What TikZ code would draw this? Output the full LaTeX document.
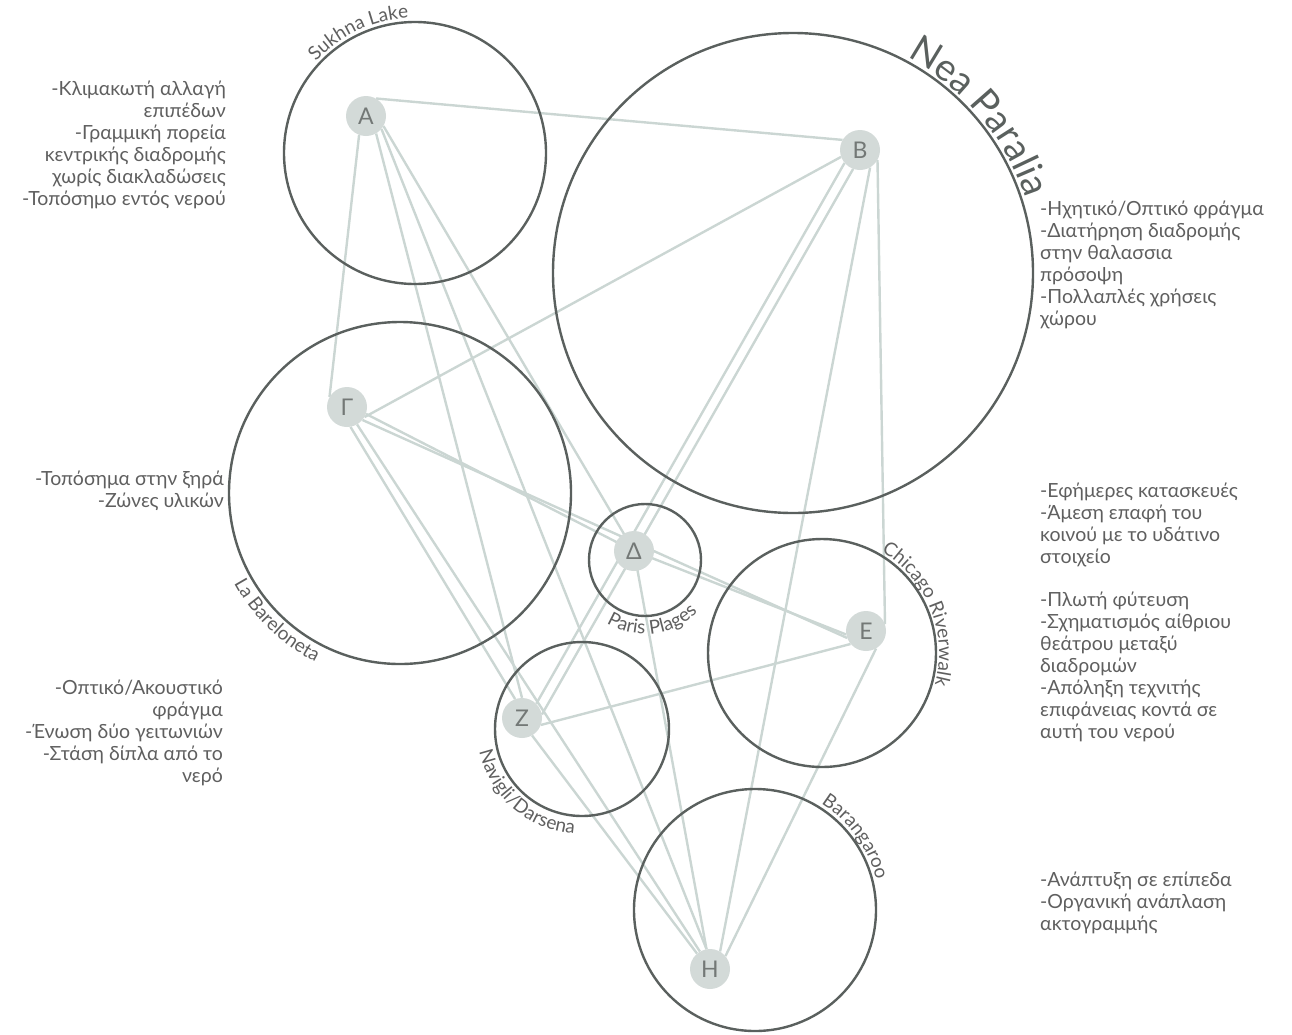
\documentclass[tikz,border=0pt]{standalone}
\usepackage{fontspec}
\setmainfont{Lato}
\usetikzlibrary{decorations.text}
\pgfdeclarelayer{background}
\pgfsetlayers{background,main}

\definecolor{ringgray}{HTML}{5A605E}
\definecolor{linkgray}{HTML}{CBD6D3}
\definecolor{dotgray}{HTML}{D3DAD8}
\definecolor{txtgray}{HTML}{5F5F5F}
\newcommand{\notefont}{\fontsize{19.5}{22}\selectfont}
\newcommand{\ringfont}{\color{txtgray}\fontsize{19}{19}\selectfont}
\newcommand{\bigringfont}{\color{ringgray}\fontsize{38}{38}\selectfont}

\begin{document}
\begin{tikzpicture}[x=1pt, y=1pt,
    ring/.style={draw=ringgray, line width=2.4pt},
    link/.style={draw=linkgray, line width=2.4pt},
    site/.style={circle, fill=dotgray, minimum size=40pt, inner sep=0pt,
      text=ringgray!85, font=\fontsize{23}{23}\selectfont},
    note/.style={text=txtgray, font=\notefont, inner sep=0pt},
    ringtext/.style={decorate, decoration={text along path, text align=center, text={#1}}}]

  \useasboundingbox (0,0) rectangle (1292,-1034);

  % the seven sites
  \coordinate (sk) at (415,-153);
  \coordinate (np) at (793,-273);
  \coordinate (lb) at (400,-493);
  \coordinate (pp) at (645,-560);
  \coordinate (cr) at (822,-653);
  \coordinate (nd) at (582,-729);
  \coordinate (ba) at (755,-910);

  \draw[ring] (sk) circle[radius=131];
  \draw[ring] (np) circle[radius=240];
  \draw[ring] (lb) circle[radius=171];
  \draw[ring] (pp) circle[radius=56];
  \draw[ring] (cr) circle[radius=114];
  \draw[ring] (nd) circle[radius=87];
  \draw[ring] (ba) circle[radius=121];

  \path[ringtext={|\ringfont|Sukhna Lake}] (sk) ++(155:135) arc[start angle=155, end angle=75, radius=135];
  \path[ringtext={|\bigringfont|Nea Paralia}] (np) ++(80:244) arc[start angle=80, end angle=0, radius=244];
  \path[ringtext={|\ringfont|La Bareloneta}] (lb) ++(181:189) arc[start angle=181, end angle=271, radius=189];
  \path[ringtext={|\ringfont|Paris Plages}] (pp) ++(200:74) arc[start angle=200, end angle=354, radius=74];
  \path[ringtext={|\ringfont|Navigli/Darsena}] (nd) ++(170:105) arc[start angle=170, end angle=288, radius=105];
  \path[ringtext={|\ringfont|Chicago Riverwalk}] (cr) ++(78:117) arc[start angle=78, end angle=-34, radius=117];
  \path[ringtext={|\ringfont|Barangaroo}] (ba) ++(76:125) arc[start angle=76, end angle=-4, radius=125];

  \node[site] (A) at (366,-116) {Α};
  \node[site] (B) at (860,-150) {Β};
  \node[site] (G) at (347,-407) {Γ};
  \node[site] (D) at (634,-551) {Δ};
  \node[site] (E) at (866,-631) {Ε};
  \node[site] (Z) at (522,-718) {Ζ};
  \node[site] (H) at (710,-969) {Η};

  \begin{pgfonlayer}{background}
    \draw[link] (A.60) -- (B.150);
    \draw[link] (A.250) -- (G.150);
    \draw[link] (A.300) -- (Z.90);
    \draw[link] (A.320) -- (H.100);
    \draw[link] (A.330) -- (D.center);
    \draw[link] (B.200) -- (G.330);
    \draw[link] (B.220) -- (Z.45);
    \draw[link] (B.250) -- (Z.10);
    \draw[link] (B.300) -- (H.60);
    \draw[link] (B.330) -- (E.20);
    \draw[link] (G.340) -- (D.center);
    \draw[link] (G.320) -- (E.200);
    \draw[link] (G.280) -- (Z.110);
    \draw[link] (G.300) -- (H.120);
    \draw[link] (D.center) -- (E.190);
    \draw[link] (D.center) -- (H.100);
    \draw[link] (Z.340) -- (E.220);
    \draw[link] (Z.300) -- (H.130);
    \draw[link] (E.300) -- (H.40);
  \end{pgfonlayer}

  % notes (anchored at the baseline of the last line)
  \node[note, align=right, anchor=base east] (nA) at (226,-205)
    {-Κλιμακωτή αλλαγή\\επιπέδων\\-Γραμμική πορεία\\κεντρικής διαδρομής\\χωρίς διακλαδώσεις\\-Τοπόσημο εντός νερού};
  \node[note, align=right, anchor=base east] (nG) at (224,-507)
    {-Τοπόσημα στην ξηρά\\-Ζώνες υλικών};
  \node[note, align=right, anchor=base east] (nZ) at (223,-782)
    {-Οπτικό/Ακουστικό\\φράγμα\\-Ένωση δύο γειτωνιών\\-Στάση δίπλα από το\\νερό};
  \node[note, align=left, anchor=base west] (nB) at (1040,-325)
    {-Ηχητικό/Οπτικό φράγμα\\-Διατήρηση διαδρομής\\στην θαλασσια\\πρόσοψη\\-Πολλαπλές χρήσεις\\χώρου};
  \node[note, align=left, anchor=base west] (nD) at (1040,-563)
    {-Εφήμερες κατασκευές\\-Άμεση επαφή του\\κοινού με το υδάτινο\\στοιχείο};
  \node[note, align=left, anchor=base west] (nE) at (1040,-738)
    {-Πλωτή φύτευση\\-Σχηματισμός αίθριου\\θεάτρου μεταξύ\\διαδρομών\\-Απόληξη τεχνιτής\\επιφάνειας κοντά σε\\αυτή του νερού};
  \node[note, align=left, anchor=base west] (nH) at (1040,-930)
    {-Ανάπτυξη σε επίπεδα\\-Οργανική ανάπλαση\\ακτογραμμής};

\end{tikzpicture}
\end{document}
